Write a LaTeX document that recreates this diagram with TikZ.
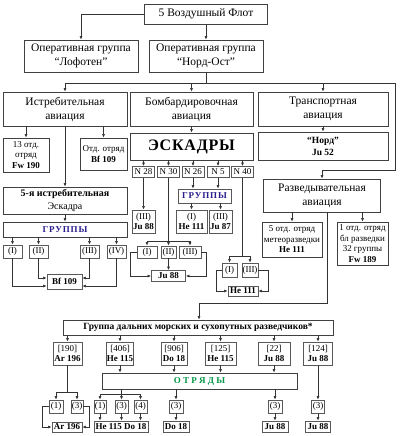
\documentclass[tikz,border=0pt]{standalone}
\usepackage{fontspec}
\setmainfont{Liberation Serif}
\usetikzlibrary{arrows.meta}
\definecolor{grpblue}{RGB}{40,30,140}
\definecolor{otrgreen}{RGB}{0,150,70}

\begin{document}
\begin{tikzpicture}[x=1pt, y=-1pt,
    box/.style={draw=black!75, line width=0.8pt, fill=white, align=center, inner sep=0.5pt, font=\fontsize{11.5}{14}\selectfont},
    small/.style={box, font=\fontsize{9}{10.5}\selectfont},
    gbox/.style={box, draw=black!65, font=\fontsize{9}{10}\selectfont},
    bold/.style={font=\bfseries\fontsize{9}{10}\selectfont},
    sz/.style 2 args={minimum width=#1pt, minimum height=#2pt},
    line/.style={draw=black!80, line width=0.6pt},
    arr/.style={line, -{Latex[length=3.5pt,width=3pt]}}]
    \useasboundingbox (0,0) rectangle (400,436);

    % command levels
    \node[box, sz={123}{20}] (top) at (206,14) {5 Воздушный Флот};
    \node[box, sz={114}{32}] (lof) at (81,56) {Оперативная группа\\“Лофотен”};
    \node[box, sz={114}{32}] (nord) at (206,56) {Оперативная группа\\“Норд-Ост”};

    \node[box, sz={124}{34}] (ist) at (65,109) {Истребительная\\авиация};
    \node[box, sz={123}{34}] (bomb) at (191.5,109) {Бомбардировочная\\авиация};
    \node[box, sz={130}{34}] (trans) at (323,109) {Транспортная\\авиация};
    \node[box, sz={117}{33}] (razv) at (322,195.5) {Разведывательная\\авиация};

    \coordinate (bus) at (206,83);
    \coordinate (rcorner) at (395,170);
    \draw[arr] (top.west) -| (lof.north);
    \draw[arr] (top) -- (nord);
    \draw[line] (nord) -- (bus);
    \draw[arr] (bus) -| (ist.north);
    \draw[arr] (bus) -| (bomb.north);
    \draw[arr] (bus) -| (trans.north);
    \draw[arr] (bus) -| (rcorner) -| (razv.north);

    % fighters
    \node[small, sz={46}{34}] (f13) at (26,155) {13 отд.\\отряд\\\textbf{Fw 190}};
    \node[small, sz={47}{32}] (fbf) at (103.5,154) {Отд. отряд\\\textbf{Bf 109}};
    \node[box, sz={124}{27}, font=\fontsize{10}{12.5}\selectfont] (esk5) at (65,200.5) {\textbf{5-я истребительная}\\Эскадра};
    \node[box, sz={124}{15}, font=\bfseries\fontsize{9}{11}\selectfont, text=grpblue] (fgr) at (65,229.5) {\addfontfeatures{LetterSpace=10}ГРУППЫ};
    \node[gbox, sz={19}{13}] (g1) at (12.5,251.5) {(I)};
    \node[gbox, sz={19}{13}] (g2) at (38.5,251.5) {(II)};
    \node[gbox, sz={19}{13}] (g3) at (89.5,251.5) {(III)};
    \node[gbox, sz={19}{13}] (g4) at (116.5,251.5) {(IV)};
    \node[gbox, sz={35}{15}, bold] (bf) at (64.5,281.5) {Bf 109};

    \draw[arr] (ist.south -| f13) -- (f13.north);
    \draw[arr] (ist.south -| fbf) -- (fbf.north);
    \draw[arr] (ist) -- (esk5);
    \draw[arr] (esk5) -- (fgr);
    \foreach \g in {g1,g2,g3,g4}
        \draw[arr] (fgr.south -| \g) -- (\g.north);
    \draw[arr] (g1.south) |- ([yshift=-4.5pt]bf.west);
    \draw[arr] (g2.south) |- ([yshift=3.5pt]bf.west);
    \draw[arr] (g3.south) |- ([yshift=3.5pt]bf.east);
    \draw[arr] (g4.south) |- ([yshift=-4.5pt]bf.east);

    % bombers
    \node[box, sz={123}{27}, font=\bfseries\fontsize{16}{19}\selectfont] (esks) at (191.5,146.5) {\addfontfeatures{LetterSpace=5}ЭСКАДРЫ};
    \foreach \n/\x in {28/143.5, 30/168.5, 26/193, 5/218, 40/242.5}
        \node[gbox, sz={22}{11}] (n\n) at (\x,172) {N \n};
    \foreach \n in {28,30,26,5,40}
        \draw[arr] (esks.south -| n\n) -- (n\n.north);
    \draw[arr] (bomb) -- (esks);

    \node[gbox, sz={53}{14}, font=\bfseries\fontsize{9}{11}\selectfont, text=grpblue] (bgr) at (204.5,196) {\addfontfeatures{LetterSpace=10}ГРУППЫ};
    \node[gbox, sz={23}{23}] (j3) at (143.5,221.5) {(III)\\\textbf{Ju 88}};
    \node[gbox, sz={31}{23}] (h1) at (191.5,221.5) {(I)\\\textbf{He 111}};
    \node[gbox, sz={23}{23}] (j87) at (220.5,221.5) {(III)\\\textbf{Ju 87}};
    \draw[arr] (n28) -- (j3);
    \draw[arr] (n26.south) -- (n26.south |- bgr.north);
    \draw[arr] (n5.south) -- (n5.south |- bgr.north);
    \draw[arr] (bgr.south -| h1) -- (h1.north);
    \draw[arr] (bgr.south -| j87) -- (j87.north);

    \node[gbox, sz={20}{12}] (jA) at (147,252) {(I)};
    \node[gbox, sz={15}{12}] (jB) at (168.5,252) {(II)};
    \node[gbox, sz={22}{12}] (jC) at (190,252) {(III)};
    \node[gbox, sz={34}{11}, bold] (ju88) at (168.5,276) {Ju 88};
    \coordinate (jbus) at (168.5,241);
    \draw[arr] (n30) -- (jB);
    \draw[arr] (jbus) -| (jA.north);
    \draw[arr] (jbus) -| (jC.north);
    \draw[arr] (jB) -- (ju88);
    \draw[arr] (jA.west) -- ++(-6,0) |- (ju88.west);
    \draw[arr] (jC.east) -- ++(5,0) |- (ju88.east);

    \node[gbox, sz={15}{14}] (hA) at (229.5,270) {(I)};
    \node[gbox, sz={16}{14}] (hB) at (250,270) {(III)};
    \node[gbox, sz={30}{10}, bold] (he111) at (243,291) {He 111};
    \coordinate (hbus) at (242.5,256);
    \draw[line] (n40) -- (hbus);
    \draw[arr] (hbus) -| (hA.north);
    \draw[arr] (hbus) -| (hB.north);
    \draw[arr] (hA.west) -- ++(-5,0) |- (he111.west);
    \draw[arr] (hB.east) -- ++(10,0) |- (he111.east);

    % transport and reconnaissance
    \node[box, sz={130}{28}, font=\bfseries\fontsize{9.5}{12}\selectfont] (ju52) at (323,146) {“Норд”\\Ju 52};
    \draw[arr] (trans) -- (ju52);
    \node[small, sz={60}{35}] (meteo) at (292,239.5) {5 отд. отряд\\метеоразведки\\\textbf{He 111}};
    \node[small, sz={51}{43}] (fw) at (362.5,243.5) {1 отд. отряд\\бл разведки\\32 группы\\\textbf{Fw 189}};
    \draw[arr] (razv.south -| meteo) -- (meteo.north);
    \draw[arr] (razv.south -| fw) -- (fw.north);

    % long range group
    \node[box, sz={270}{15}, font=\bfseries\fontsize{9.5}{11}\selectfont] (grp) at (198,327.5) {Группа дальних морских и сухопутных разведчиков*};
    \coordinate (rturn) at (199,303);
    \draw[arr] ([xshift=5pt]razv.south) |- (rturn) -- (rturn |- grp.north);

    \foreach \nm/\x/\w/\nr/\tp in {r190/67.5/29/190/Ar 196, r406/120/26/406/He 115, r906/174/26/906/Do 18,
                                   r125/220.5/31/125/He 115, r22/274/32/22/Ju 88, r124/318/29/124/Ju 88} {
        \node[gbox, sz={\w}{23}] (\nm) at (\x,353.5) {[\nr]\\\textbf{\tp}};
        \draw[arr] (grp.south -| \nm) -- (\nm.north);
    }

    \node[box, sz={195}{16}, font=\bfseries\fontsize{9}{11}\selectfont, text=otrgreen] (otr) at (199.5,381) {О Т Р Я Д Ы};
    \foreach \nm in {r406,r906,r125,r22}
        \draw[arr] (\nm) -- (\nm |- otr.north);

    \node[gbox, sz={14}{13}] (a1) at (56,406.5) {(1)};
    \node[gbox, sz={12}{13}] (a3) at (77,406.5) {(3)};
    \node[gbox, sz={30}{10}, bold] (ar) at (67,427) {Ar 196};
    \coordinate (abus) at (67.5,392);
    \draw[line] (r190) -- (abus);
    \draw[arr] (abus) -| (a1.north);
    \draw[arr] (abus) -| (a3.north);
    \draw[arr] (a1.west) -- ++(-6,0) |- (ar.west);
    \draw[arr] (a3.east) -- ++(6,0) |- (ar.east);

    \node[gbox, sz={12}{13}] (o1) at (100,406.5) {(1)};
    \node[gbox, sz={13}{13}] (o3) at (121.5,406.5) {(3)};
    \node[gbox, sz={13}{13}] (o4) at (140.5,406.5) {(4)};
    \node[gbox, sz={54}{11}, bold] (hedo) at (121,426.5) {He 115 Do 18};
    \coordinate (obus) at (121.5,394);
    \draw[arr] (otr.south -| obus) -- (o3.north);
    \draw[arr] (obus) -| (o1.north);
    \draw[arr] (obus) -| (o4.north);
    \foreach \o in {o1,o3,o4}
        \draw[arr] (\o.south) -- (\o.south |- hedo.north);

    \node[gbox, sz={14}{13}] (od3) at (176,406.5) {(3)};
    \node[gbox, sz={26}{11}, bold] (do18) at (176,426.5) {Do 18};
    \draw[arr] (otr.south -| od3) -- (od3.north);
    \draw[arr] (od3) -- (do18);

    \node[gbox, sz={14}{13}] (oj3) at (275,406.5) {(3)};
    \node[gbox, sz={26}{11}, bold] (juA) at (275,426.5) {Ju 88};
    \draw[arr] (otr.south -| oj3) -- (oj3.north);
    \draw[arr] (oj3) -- (juA);

    \node[gbox, sz={13}{13}] (pj3) at (318,406.5) {(3)};
    \node[gbox, sz={25}{11}, bold] (juB) at (318,426.5) {Ju 88};
    \draw[arr] (r124) -- (pj3);
    \draw[arr] (pj3) -- (juB);
\end{tikzpicture}
\end{document}
